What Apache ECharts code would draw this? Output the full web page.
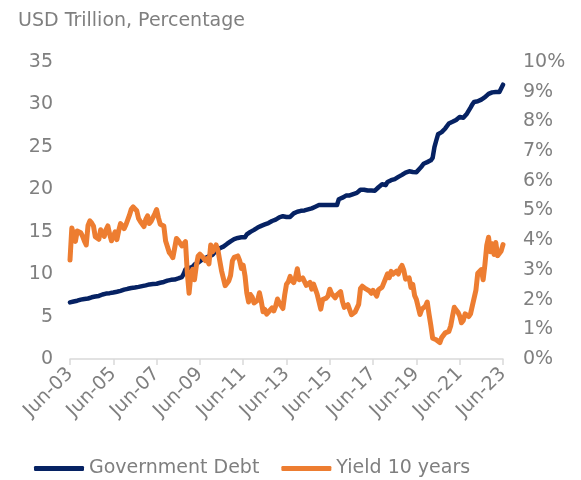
<!DOCTYPE html>
<html>
<head>
<meta charset="utf-8">
<style>html,body{margin:0;padding:0;background:#fff;}#c{width:581px;height:480px;}</style>
<script src="https://cdn.jsdelivr.net/npm/echarts@6/dist/echarts.min.js"></script>
</head>
<body>
<div id="c"></div>
<script>
// Monthly categories Jun-03 .. Jun-23
const monthNames = ['Jan','Feb','Mar','Apr','May','Jun','Jul','Aug','Sep','Oct','Nov','Dec'];
const categories = [];
for (let y = 2003, m = 5; y < 2023 || (y === 2023 && m <= 5); ) {
  categories.push(monthNames[m] + '-' + String(y % 100).padStart(2, '0'));
  m++; if (m > 11) { m = 0; y++; }
}

// Government debt, USD trillion
const governmentDebt = [
  6.67, 6.71, 6.78, 6.78, 6.87, 6.93, 7.00,
  7.01, 7.08, 7.13, 7.13, 7.21, 7.27, 7.30, 7.36, 7.38, 7.43, 7.53, 7.60,
  7.63, 7.71, 7.78, 7.76, 7.78, 7.84, 7.88, 7.93, 7.93, 8.03, 8.09, 8.17,
  8.20, 8.27, 8.37, 8.36, 8.36, 8.42, 8.42, 8.50, 8.51, 8.59, 8.63, 8.68,
  8.71, 8.79, 8.85, 8.83, 8.84, 8.87, 8.93, 8.98, 9.01, 9.08, 9.14, 9.23,
  9.24, 9.33, 9.44, 9.36, 9.38, 9.49, 9.59, 9.65, 10.02, 10.57, 10.66, 10.70,
  10.63, 10.87, 11.13, 11.24, 11.36, 11.55, 11.67, 11.80, 11.91, 11.93, 12.11, 12.31,
  12.28, 12.44, 12.77, 12.95, 13.05, 13.20, 13.24, 13.45, 13.56, 13.67, 13.86, 14.03,
  14.13, 14.20, 14.27, 14.29, 14.34, 14.34, 14.34, 14.68, 14.79, 14.98, 15.07, 15.22,
  15.36, 15.49, 15.58, 15.69, 15.77, 15.86, 15.93, 16.02, 16.07, 16.26, 16.37, 16.43,
  16.43, 16.69, 16.77, 16.83, 16.74, 16.74, 16.74, 16.74, 16.74, 17.16, 17.22, 17.35,
  17.29, 17.46, 17.60, 17.51, 17.52, 17.63, 17.69, 17.75, 17.82, 17.94, 18.01, 18.14,
  18.08, 18.16, 18.15, 18.15, 18.15, 18.15, 18.15, 18.15, 18.15, 18.15, 18.83, 18.92,
  19.01, 19.13, 19.26, 19.19, 19.27, 19.38, 19.43, 19.51, 19.57, 19.80, 19.95, 19.98,
  19.94, 19.96, 19.85, 19.85, 19.85, 19.84, 19.84, 19.84, 20.24, 20.44, 20.59, 20.49,
  20.49, 20.86, 21.09, 21.07, 21.15, 21.20, 21.31, 21.46, 21.52, 21.70, 21.85, 21.97,
  21.98, 22.12, 22.03, 22.03, 22.03, 22.02, 22.02, 22.48, 22.72, 23.01, 23.08, 23.20,
  23.22, 23.41, 23.69, 24.97, 25.75, 26.48, 26.53, 26.73, 26.95, 27.17, 27.36, 27.75,
  27.75, 27.95, 28.13, 28.17, 28.23, 28.53, 28.43, 28.43, 28.43, 28.91, 28.91, 29.62,
  30.01, 30.29, 30.40, 30.37, 30.48, 30.57, 30.60, 30.85, 30.93, 31.24, 31.41, 31.42,
  31.46, 31.46, 31.46, 31.46, 31.46, 32.33
];

// 10-year yield, percent
const yield10 = [
  3.33, 4.41, 4.46, 3.96, 4.31, 4.34, 4.25,
  4.13, 3.97, 3.84, 4.50, 4.65, 4.58, 4.48, 4.12, 4.12, 4.03, 4.35, 4.22,
  4.13, 4.36, 4.48, 4.20, 3.98, 3.94, 4.28, 4.02, 4.32, 4.56, 4.49, 4.39,
  4.52, 4.55, 4.85, 5.05, 5.12, 5.14, 4.99, 4.73, 4.63, 4.61, 4.46, 4.70,
  4.82, 4.56, 4.64, 4.63, 4.89, 5.03, 4.76, 4.54, 4.59, 4.48, 3.97, 4.02,
  3.59, 3.51, 3.41, 3.73, 4.06, 3.99, 3.95, 3.81, 3.82, 3.95, 2.92, 2.21,
  2.84, 3.02, 2.67, 3.13, 3.46, 3.53, 3.48, 3.40, 3.31, 3.38, 3.20, 3.84,
  3.61, 3.61, 3.84, 3.66, 3.31, 2.97, 2.94, 2.47, 2.52, 2.63, 2.81, 3.30,
  3.42, 3.42, 3.47, 3.32, 3.05, 3.16, 2.80, 2.22, 1.92, 2.17, 2.08, 1.89,
  1.83, 1.98, 2.23, 1.95, 1.59, 1.67, 1.51, 1.57, 1.65, 1.72, 1.62, 1.78,
  2.02, 1.89, 1.87, 1.70, 2.16, 2.52, 2.60, 2.78, 2.64, 2.57, 2.75, 3.04,
  2.67, 2.66, 2.73, 2.67, 2.48, 2.53, 2.58, 2.35, 2.52, 2.35, 2.18, 2.17,
  1.68, 2.00, 1.94, 2.05, 2.12, 2.35, 2.20, 2.21, 2.06, 2.16, 2.21, 2.27,
  1.94, 1.74, 1.78, 1.83, 1.85, 1.49, 1.46, 1.58, 1.60, 1.84, 2.37, 2.45,
  2.45, 2.36, 2.40, 2.29, 2.21, 2.31, 2.30, 2.12, 2.33, 2.38, 2.42, 2.40,
  2.72, 2.87, 2.74, 2.95, 2.86, 2.85, 2.96, 2.86, 3.05, 3.15, 2.99, 2.69,
  2.63, 2.73, 2.41, 2.51, 2.14, 2.00, 2.02, 1.50, 1.68, 1.69, 1.78, 1.92,
  1.51, 1.13, 0.70, 0.64, 0.65, 0.66, 0.55, 0.72, 0.69, 0.88, 0.84, 0.93,
  1.11, 1.44, 1.74, 1.65, 1.58, 1.45, 1.22, 1.30, 1.52, 1.55, 1.43, 1.52,
  1.79, 1.83, 2.32, 2.89, 2.85, 3.01, 2.67, 3.19, 3.83, 4.10, 3.61, 3.88,
  3.52, 3.92, 3.48, 3.44, 3.64, 3.85
];

const seriesNames = ['Government Debt', 'Yield 10 years'];
const titleText = 'USD Trillion, Percentage';

const FONT = 'DejaVu Sans';
const GREY = '#7f7f7f';
const NAVY = '#062263';
const ORANGE = '#ED7D31';

const chart = echarts.init(document.getElementById('c'), null, {renderer: 'canvas'});
chart.setOption({
  animation: false,
  backgroundColor: '#ffffff',
  title: {
    text: titleText, left: 13, top: 7,
    textStyle: {fontFamily: FONT, fontSize: 19, fontWeight: 'normal', color: GREY}
  },
  legend: {
    data: seriesNames, left: 29, top: 454,
    icon: 'roundRect', itemWidth: 50, itemHeight: 5, itemGap: 22,
    textStyle: {fontFamily: FONT, fontSize: 19, color: GREY}
  },
  grid: {left: 70, right: 78, top: 62, bottom: 121, containLabel: false},
  xAxis: {
    type: 'category', data: categories, boundaryGap: false,
    axisLine: {lineStyle: {color: '#d9d9d9', width: 1.5}},
    axisTick: {show: true, interval: 23, length: 6, lineStyle: {color: '#d9d9d9', width: 1.5}},
    axisLabel: {interval: 23, rotate: 45, margin: 12, fontFamily: FONT, fontSize: 19, color: GREY},
    splitLine: {show: false}
  },
  yAxis: [
    {
      type: 'value', min: 0, max: 35, interval: 5,
      axisLine: {show: false}, axisTick: {show: false}, splitLine: {show: false},
      axisLabel: {margin: 17, fontFamily: FONT, fontSize: 19, color: GREY}
    },
    {
      type: 'value', min: 0, max: 10, interval: 1, position: 'right',
      axisLine: {show: false}, axisTick: {show: false}, splitLine: {show: false},
      axisLabel: {margin: 20, formatter: '{value}%', fontFamily: FONT, fontSize: 19, color: GREY}
    }
  ],
  series: [
    {
      name: seriesNames[0], type: 'line', data: governmentDebt, yAxisIndex: 0,
      showSymbol: false, symbol: 'none', color: NAVY,
      lineStyle: {color: NAVY, width: 4.5, join: 'round', cap: 'round'}
    },
    {
      name: seriesNames[1], type: 'line', data: yield10, yAxisIndex: 1,
      showSymbol: false, symbol: 'none', color: ORANGE,
      lineStyle: {color: ORANGE, width: 5, join: 'round', cap: 'round'}
    }
  ]
});
</script>
</body>
</html>
